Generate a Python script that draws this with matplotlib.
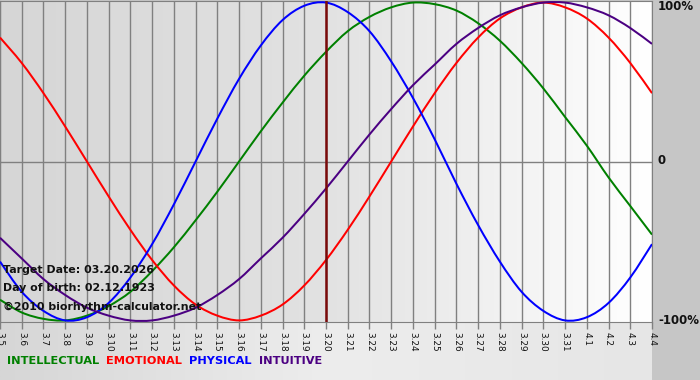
import numpy as np
import matplotlib
matplotlib.use("Agg")
import matplotlib.pyplot as plt
from matplotlib.colors import LinearSegmentedColormap
from matplotlib.path import Path
from matplotlib.patches import PathPatch

# days shown, 3.5 .. 4.4
dates = ["3.5", "3.6", "3.7", "3.8", "3.9", "3.10", "3.11", "3.12", "3.13", "3.14",
         "3.15", "3.16", "3.17", "3.18", "3.19", "3.20", "3.21", "3.22", "3.23", "3.24",
         "3.25", "3.26", "3.27", "3.28", "3.29", "3.30", "3.31", "4.1", "4.2", "4.3", "4.4"]

# values (1 = 100%)
physical = [-0.63, -0.82, -0.94, -1.00, -0.98, -0.89, -0.73, -0.52, -0.27, 0.00,
            0.27, 0.52, 0.73, 0.89, 0.98, 1.00, 0.94, 0.82, 0.63, 0.40,
            0.14, -0.14, -0.40, -0.63, -0.82, -0.94, -1.00, -0.98, -0.89, -0.73, -0.52]
emotional = [0.78, 0.62, 0.43, 0.22, 0.00, -0.22, -0.43, -0.62, -0.78, -0.90,
             -0.97, -1.00, -0.97, -0.90, -0.78, -0.62, -0.43, -0.22, 0.00, 0.22,
             0.43, 0.62, 0.78, 0.90, 0.97, 1.00, 0.97, 0.90, 0.78, 0.62, 0.43]
intellectual = [-0.87, -0.95, -0.99, -1.00, -0.97, -0.91, -0.82, -0.69, -0.54, -0.37,
                -0.19, 0.00, 0.19, 0.37, 0.54, 0.69, 0.82, 0.91, 0.97, 1.00,
                0.99, 0.95, 0.87, 0.76, 0.62, 0.46, 0.28, 0.10, -0.10, -0.28, -0.46]
intuitive = [-0.48, -0.61, -0.74, -0.84, -0.92, -0.97, -1.00, -1.00, -0.97, -0.92,
             -0.84, -0.74, -0.61, -0.48, -0.33, -0.17, 0.00, 0.17, 0.33, 0.48,
             0.61, 0.74, 0.84, 0.92, 0.97, 1.00, 1.00, 0.97, 0.92, 0.84, 0.74]

target_idx = dates.index("3.20")
info = ["Target Date: 03.20.2026", "Day of birth: 02.12.1923", "\u00a92010 biorhythm-calculator.net"]


def smooth_line(ax, xs, ys, color):
    # smooth curve through the points (catmull-rom drawn as bezier segments)
    xs = np.asarray(xs, float)
    ys = np.asarray(ys, float)
    pts = np.column_stack([xs, ys])
    verts = [pts[0]]
    codes = [Path.MOVETO]
    n = len(pts)
    for i in range(n - 1):
        p0 = pts[i - 1] if i > 0 else pts[i]
        p1, p2 = pts[i], pts[i + 1]
        p3 = pts[i + 2] if i + 2 < n else pts[i + 1]
        verts += [p1 + (p2 - p0) / 6, p2 - (p3 - p1) / 6, p2]
        codes += [Path.CURVE4] * 3
    ax.add_patch(PathPatch(Path(verts, codes), fill=False, edgecolor=color, lw=1.45, zorder=3))


W, H = 700, 380
fig = plt.figure(figsize=(W / 100, H / 100), dpi=100)
fig.patch.set_facecolor("#c6c6c6")

# light band under the plot
band = fig.add_axes([0, 0, 652 / W, 58 / H])
band.imshow(np.linspace(0, 1, 256)[None, :], aspect="auto", extent=[0, 1, 0, 1],
            cmap=LinearSegmentedColormap.from_list("b", ["#d6d6d6", "#ededed", "#e6e6e6"]))
band.axis("off")

ax = fig.add_axes([0, 58 / H, 652 / W, 321 / H])
x = np.arange(len(dates))
ax.set_xlim(0, len(dates) - 1)
ax.set_ylim(-1.01, 1.01)

# grey -> white background gradient
ax.imshow(np.linspace(0, 1, 256)[None, :], aspect="auto",
          extent=[0, len(dates) - 1, -1.01, 1.01], zorder=0,
          cmap=LinearSegmentedColormap.from_list("g", ["#d6d6d6", "#e2e2e2", "#ffffff"]))

for xi in x:
    ax.axvline(xi, color="#808080", lw=1.0, zorder=1)
ax.axhline(0, color="#808080", lw=1.0, zorder=1)

smooth_line(ax, x, intellectual, "#008000")
smooth_line(ax, x, emotional, "#ff0000")
smooth_line(ax, x, physical, "#0000ff")
smooth_line(ax, x, intuitive, "#4b0082")
ax.axvline(target_idx, color="#7a0a0a", lw=1.8, zorder=4)

for s in ax.spines.values():
    s.set_color("#808080")

ax.set_xticks(x)
ax.set_xticklabels(dates, rotation=270, fontsize=6.4, color="#111111")
ax.tick_params(axis="x", length=5, width=1, color="#808080", pad=2)
ax.set_yticks([])

for ypix, lab in [(7, "100%"), (161, "0"), (321, "-100%")]:
    fig.text(658 / W, 1 - ypix / H, lab, ha="left", va="center",
             fontsize=8.5, fontweight="bold", color="#111111")

for ypix, t in zip([270, 288, 307], info):
    fig.text(3 / W, 1 - ypix / H, t, fontsize=7.9, fontweight="bold",
             color="#111111", va="center", ha="left", zorder=5)

# legend line under the axis
labels = [("INTELLECTUAL", "#008000"), ("EMOTIONAL", "#ff0000"), ("PHYSICAL", "#0000ff"), ("INTUITIVE", "#4b0082")]
xpos = 7
r = fig.canvas.get_renderer()
for lab, col in labels:
    t = fig.text(xpos / W, 1 - 361 / H, lab, fontsize=8.2, fontweight="bold", color=col, va="center")
    xpos += t.get_window_extent(r).width + 7

fig.savefig("out.png", dpi=100, facecolor=fig.get_facecolor())
